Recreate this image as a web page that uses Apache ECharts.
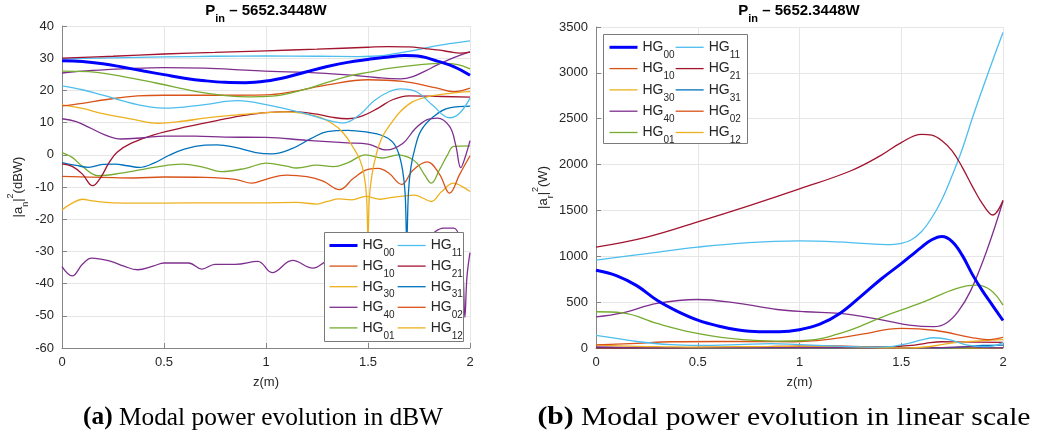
<!DOCTYPE html>
<html><head><meta charset="utf-8">
<script src="https://cdn.jsdelivr.net/npm/echarts@6/dist/echarts.min.js"></script>
<style>html,body{margin:0;padding:0;background:#fff}#c{width:1037px;height:441px}</style>
</head><body><div id="c"></div>
<script>
// ---------------- data ----------------
const legendCol1 = ['HG00','HG10','HG30','HG40','HG01'];
const legendCol2 = ['HG11','HG21','HG31','HG02','HG12'];
const titleText = 'P_in – 5652.3448W';
const captionA = ['(a)', ' Modal power evolution in dBW'];
const captionB = ['(b)', ' Modal power evolution in linear scale'];

// dBW panel: [z (m), |a_n|^2 (dBW)]
const dB_A = [[0,30.0],[0.25,30.6],[0.5,31.3],[0.75,31.8],[1.0,32.3],[1.25,32.8],[1.5,33.4],[1.6,33.6],[1.7,33.5],[1.78,33.0],[1.85,32.5],[1.9,32.0],[1.95,31.6],[2.0,31.9]];
const dB_B = [[0,29.8],[0.25,30.1],[0.5,30.4],[0.75,30.6],[1.0,30.7],[1.25,30.6],[1.45,30.5],[1.52,30.6],[1.58,30.9],[1.64,31.5],[1.7,32.1],[1.77,33.0],[1.84,33.9],[1.92,34.7],[2.0,35.4]];
const dB_C = [[0,29.2],[0.1,29.0],[0.2,28.3],[0.3,27.2],[0.4,26.0],[0.5,24.9],[0.6,23.8],[0.7,23.0],[0.8,22.5],[0.9,22.4],[1.0,22.9],[1.1,24.1],[1.2,25.8],[1.3,27.4],[1.4,28.7],[1.5,29.6],[1.6,30.4],[1.68,30.8],[1.76,30.5],[1.84,29.1],[1.92,27.4],[2.0,24.7]];
const dB_D = [[0,26.0],[0.13,25.8],[0.3,24.3],[0.46,22.3],[0.66,19.6],[0.8,18.4],[0.92,18.0],[1.03,18.2],[1.2,20.5],[1.3,22.5],[1.41,24.5],[1.5,25.6],[1.61,26.9],[1.77,28.1],[1.87,28.4],[1.94,28.0],[2.0,26.7]];
const dB_E = [[0,25.4],[0.15,26.2],[0.3,26.7],[0.5,27.1],[0.7,26.9],[0.9,26.3],[1.03,25.9],[1.2,25.6],[1.4,24.8],[1.54,24.0],[1.66,23.6],[1.72,24.3],[1.78,26.0],[1.84,27.9],[1.92,30.2],[2.0,32.0]];
const dB_F = [[0,21.4],[0.1,20.2],[0.2,18.5],[0.37,15.6],[0.5,14.5],[0.7,15.6],[0.86,16.8],[1.0,15.6],[1.18,13.0],[1.3,10.8],[1.38,9.9],[1.46,12.5],[1.53,16.8],[1.6,19.5],[1.66,20.5],[1.74,19.5],[1.82,15.2],[1.9,11.5],[1.95,13.0],[2.0,17.6]];
const dB_G = [[0,15.2],[0.1,16.0],[0.21,17.1],[0.37,18.3],[0.5,18.5],[0.75,18.5],[1.0,18.6],[1.13,19.6],[1.3,21.7],[1.5,23.3],[1.67,22.8],[1.84,20.7],[1.92,19.6],[2.0,20.7]];
const dB_H = [[0,15.5],[0.1,14.4],[0.2,12.8],[0.35,11.0],[0.47,9.8],[0.6,10.5],[0.7,11.4],[0.86,12.4],[1.0,13.1],[1.09,13.3],[1.25,11.9],[1.33,9.5],[1.38,6.7],[1.43,2.0],[1.46,-1.5],[1.48,-6],[1.493,-13],[1.5,-26],[1.507,-13],[1.52,-6],[1.54,0],[1.57,5.5],[1.61,9.5],[1.66,13.5],[1.72,16.5],[1.79,18.0],[1.9,19.1],[2.0,19.6]];
const dB_I = [[0,11.2],[0.07,10.3],[0.13,8.6],[0.21,6.2],[0.29,4.9],[0.4,5.3],[0.5,5.8],[0.65,5.8],[0.8,5.5],[1.0,5.4],[1.2,4.5],[1.4,3.7],[1.5,3.3],[1.59,1.5],[1.67,3.5],[1.73,8.0],[1.79,10.9],[1.84,11.4],[1.9,8.8],[1.93,3.0],[1.955,-4.0],[1.975,-1.0],[2.0,4.4]];
const dB_J = [[0,0.7],[0.05,-0.8],[0.1,-3.6],[0.18,-6.5],[0.29,-5.7],[0.46,-3.8],[0.59,-2.9],[0.7,-4.0],[0.78,-5.2],[0.9,-4.2],[1.0,-2.6],[1.1,-3.5],[1.15,-4.1],[1.25,-3.2],[1.33,-3.7],[1.4,-2.5],[1.49,0],[1.57,-1.0],[1.65,0],[1.7,-0.8],[1.74,-2.6],[1.78,-6.5],[1.81,-8.8],[1.85,-4.7],[1.89,0],[1.92,2.6],[2.0,2.8]];
const dB_K = [[0,-2.4],[0.07,-3.3],[0.13,-3.9],[0.2,-3.0],[0.26,-2.9],[0.32,-3.4],[0.38,-3.9],[0.45,-2.6],[0.52,-0.3],[0.6,1.8],[0.7,3.0],[0.76,3.1],[0.85,2.3],[0.95,0.7],[1.03,0.3],[1.13,2.0],[1.22,5.0],[1.3,7.2],[1.4,7.6],[1.5,7.0],[1.57,6.0],[1.62,4.0],[1.65,0.5],[1.67,-5],[1.682,-12],[1.69,-27],[1.698,-12],[1.71,-4],[1.73,2],[1.76,7.5],[1.82,11.8],[1.9,14.6],[2.0,15.1]];
const dB_L = [[0,-2.8],[0.05,-3.6],[0.1,-6.0],[0.15,-9.6],[0.19,-7.0],[0.23,-2.5],[0.27,0.8],[0.34,3.6],[0.45,6.2],[0.62,8.8],[0.78,10.9],[0.9,12.3],[1.0,13.1],[1.13,13.4],[1.25,12.6],[1.33,11.6],[1.4,11.2],[1.47,12.0],[1.55,14.5],[1.62,17.1],[1.7,18.3],[1.8,18.2],[2.0,17.9]];
const dB_M = [[0,-6.7],[0.2,-7.0],[0.35,-7.2],[0.5,-6.9],[0.7,-7.0],[0.85,-7.6],[0.93,-8.8],[1.0,-7.6],[1.1,-6.3],[1.2,-6.8],[1.28,-8.2],[1.36,-10.8],[1.43,-7.2],[1.5,-4.5],[1.55,-4.2],[1.6,-5.6],[1.665,-9.2],[1.72,-4.8],[1.79,-2.2],[1.85,-6.0],[1.9,-11.9],[1.95,-6.0],[2.0,-0.3]];
const dB_N = [[0,-17.1],[0.05,-15.0],[0.1,-13.8],[0.15,-14.3],[0.25,-14.9],[0.5,-15.0],[0.75,-14.9],[1.0,-14.9],[1.15,-14.8],[1.25,-15.3],[1.3,-14.5],[1.36,-13.7],[1.42,-14.0],[1.49,-12.9],[1.56,-13.8],[1.62,-13.2],[1.66,-12.9],[1.73,-12.5],[1.77,-13.5],[1.81,-14.5],[1.86,-11.5],[1.92,-8.8],[1.96,-9.8],[2.0,-11.4]];
const dB_O = [[0,-34.7],[0.05,-37.6],[0.1,-34.0],[0.145,-32.1],[0.24,-33.1],[0.3,-34.5],[0.37,-35.7],[0.45,-34.5],[0.5,-33.6],[0.62,-33.6],[0.685,-35.5],[0.75,-34.0],[0.85,-34.0],[0.96,-33.1],[1.03,-36.6],[1.13,-32.8],[1.23,-35.2],[1.3,-33],[1.4,-32],[1.5,-30],[1.6,-28.5],[1.7,-27],[1.8,-25],[1.87,-22.8],[1.92,-22.8],[1.95,-26],[1.965,-35],[1.975,-50.5],[1.985,-38],[2.0,-30.4]];

// linear panel: [z (m), |a_r|^2 (W)]
const W_A = [[0,1100],[0.25,1210],[0.5,1375],[0.75,1550],[1.0,1735],[1.25,1930],[1.4,2100],[1.5,2240],[1.6,2330],[1.65,2320],[1.7,2260],[1.75,2150],[1.8,1970],[1.85,1760],[1.9,1570],[1.95,1450],[2.0,1610]];
const W_B = [[0,957],[0.25,1030],[0.5,1100],[0.75,1150],[1.0,1167],[1.25,1150],[1.45,1128],[1.5,1140],[1.55,1180],[1.6,1270],[1.65,1420],[1.7,1620],[1.75,1880],[1.8,2170],[1.85,2510],[1.9,2830],[1.95,3140],[2.0,3440]];
const W_C = [[0,848],[0.1,790],[0.2,680],[0.3,520],[0.4,400],[0.5,304],[0.6,240],[0.7,196],[0.8,178],[0.9,178],[1.0,200],[1.1,260],[1.2,380],[1.3,560],[1.4,750],[1.5,920],[1.55,1010],[1.6,1100],[1.65,1180],[1.7,1215],[1.75,1160],[1.8,1010],[1.85,800],[1.9,620],[1.95,460],[2.0,300]];
const W_D = [[0,395],[0.13,384],[0.3,268],[0.46,177],[0.66,105],[0.89,75],[1.03,82],[1.215,170],[1.41,340],[1.61,503],[1.77,648],[1.87,685],[1.94,630],[2.0,467]];
const W_E = [[0,340],[0.13,384],[0.3,486],[0.5,529],[0.7,486],[0.89,420],[1.03,395],[1.2,377],[1.41,304],[1.54,250],[1.66,232],[1.72,270],[1.78,400],[1.84,620],[1.92,1060],[2.0,1600]];
const W_F = [[0,138],[0.1,105],[0.2,71],[0.37,36],[0.5,28],[0.7,36],[0.86,48],[1.0,36],[1.18,20],[1.3,12],[1.38,10],[1.46,18],[1.53,48],[1.6,89],[1.66,112],[1.74,89],[1.82,33],[1.9,14],[1.95,20],[2.0,58]];
const W_G = [[0,33],[0.2,51],[0.37,68],[0.6,71],[0.8,71],[0.97,68],[1.13,91],[1.3,148],[1.5,214],[1.67,191],[1.84,117],[1.92,91],[2.0,117]];
const W_H = [[0,35],[0.2,18],[0.35,13],[0.47,10],[0.7,14],[0.86,17],[1.0,20],[1.09,21],[1.25,15],[1.38,5],[1.46,0.7],[1.5,0],[1.54,1],[1.6,8],[1.66,22],[1.72,45],[1.79,63],[1.9,81],[2.0,91]];
const W_I = [[0,13],[0.13,7],[0.29,3.1],[0.5,3.8],[1.0,3.5],[1.4,2.3],[1.59,1.4],[1.7,4.5],[1.84,14],[1.9,7.6],[1.955,0.4],[2.0,2.8]];
const W_J = [[0,1.2],[0.19,0.2],[0.6,0.5],[1.0,0.55],[1.49,1.0],[1.81,0.13],[1.92,1.8],[2.0,1.9]];
const W_K = [[0,0.6],[0.38,0.4],[0.7,2],[1.03,1.1],[1.3,5.2],[1.4,5.8],[1.5,5],[1.62,2.5],[1.69,0],[1.73,1.3],[1.76,5],[1.82,15],[1.9,29],[2.0,32]];
const W_L = [[0,0.5],[0.15,0.1],[0.3,1.5],[0.45,4.2],[0.62,7.6],[0.78,12.3],[0.9,17],[1.0,20],[1.13,22],[1.25,18],[1.4,13],[1.47,16],[1.55,28],[1.62,51],[1.7,68],[1.8,66],[2.0,62]];
const W_M = [[0,0.2],[1.0,0.17],[1.5,0.35],[1.79,0.6],[1.9,0.06],[2.0,0.9]];
const W_N = [[0,0.02],[1.0,0.03],[2.0,0.07]];
const W_O = [[0,0],[1.0,0],[2.0,0]];

// ---------------- styling / series spec ----------------
const C = {blue:'#0000FF', orange:'#D95319', yellow:'#EDB120', purple:'#7E2F8E', green:'#77AC30', lblue:'#4DBEEE', dred:'#A2142F', mblue:'#0072BD'};
// [name, color, width, dB data, W data]
const specs = [
  ['_o', C.purple, 1.3, dB_O, W_O],
  ['HG12', C.yellow, 1.3, dB_N, W_N],
  ['HG02', C.orange, 1.3, dB_M, W_M],
  ['_j', C.green, 1.3, dB_J, W_J],
  ['HG31', C.mblue, 1.3, dB_K, W_K],
  ['_l', C.dred, 1.3, dB_L, W_L],
  ['_i', C.purple, 1.3, dB_I, W_I],
  ['HG30', C.yellow, 1.3, dB_H, W_H],
  ['HG10', C.orange, 1.3, dB_G, W_G],
  ['_f', C.lblue, 1.3, dB_F, W_F],
  ['HG40', C.purple, 1.3, dB_E, W_E],
  ['HG01', C.green, 1.3, dB_D, W_D],
  ['HG11', C.lblue, 1.3, dB_B, W_B],
  ['HG21', C.dred, 1.3, dB_A, W_A],
  ['HG00', C.blue, 3, dB_C, W_C]
];

const FONT = 'Liberation Sans';
const TXT = '#262626';
const AX = '#858585';

const series = [];
specs.forEach(([name, color, w, dbData, wData]) => {
  [dbData, wData].forEach((d, i) => {
    series.push({
      type: 'line', name, xAxisIndex: i, yAxisIndex: i, data: d,
      symbol: 'none', showSymbol: false, smooth: 0.4,
      lineStyle: {color, width: w}, itemStyle: {color},
      emphasis: {disabled: true}, silent: true, animation: false, z: 2
    });
  });
});

function xAxis(gi) {
  return {
    type: 'value', gridIndex: gi, min: 0, max: 2, interval: 0.5,
    name: 'z(m)', nameLocation: 'middle', nameGap: 28,
    nameTextStyle: {fontFamily: FONT, fontSize: 13, color: TXT},
    axisLine: {show: true, onZero: false, lineStyle: {color: AX, width: 1}},
    axisTick: {show: true, inside: true, length: 5, lineStyle: {color: AX}},
    axisLabel: {fontFamily: FONT, fontSize: 13, color: TXT, margin: 8},
    splitLine: {show: true, lineStyle: {color: '#e6e6e6', width: 1}}
  };
}
const nameRich = {
  t: {fontFamily: FONT, fontSize: 13, color: TXT, lineHeight: 24, verticalAlign: 'middle'},
  s: {fontFamily: FONT, fontSize: 9, color: TXT, lineHeight: 10, verticalAlign: 'bottom'},
  p: {fontFamily: FONT, fontSize: 9, color: TXT, lineHeight: 10, verticalAlign: 'top'}
};
function yAxis(gi, min, max, interval, name, gap) {
  return {
    type: 'value', gridIndex: gi, min, max, interval,
    name, nameLocation: 'middle', nameGap: gap,
    nameTextStyle: {rich: nameRich},
    axisLine: {show: true, lineStyle: {color: AX, width: 1}},
    axisTick: {show: true, inside: true, length: 5, lineStyle: {color: AX}},
    axisLabel: {fontFamily: FONT, fontSize: 13, color: TXT, margin: 8, formatter: v => String(v)},
    splitLine: {show: true, lineStyle: {color: '#e6e6e6', width: 1}}
  };
}
const titleRich = {
  p: {fontFamily: FONT, fontSize: 15, fontWeight: 'bold', color: '#000', lineHeight: 20.5, verticalAlign: 'top'},
  s: {fontFamily: FONT, fontSize: 11, fontWeight: 'bold', color: '#000', lineHeight: 12, verticalAlign: 'bottom'}
};
const tParts = titleText.split('_in');
const titleStr = '{p|' + tParts[0] + '}{s|in}{p|' + tParts[1] + '}';

const legRich = {
  a: {fontFamily: FONT, fontSize: 14, color: TXT, lineHeight: 26, verticalAlign: 'middle'},
  s: {fontFamily: FONT, fontSize: 10, color: TXT, lineHeight: 10, verticalAlign: 'bottom'}
};
function legend(names, left, top, gap) {
  return {
    data: names, orient: 'vertical', left, top,
    padding: 0, itemGap: gap, itemWidth: 28, itemHeight: 14, z: 5,
    selectedMode: false,
    itemStyle: {opacity: 0}, lineStyle: {width: 'inherit'},
    formatter: n => '{a|HG}{s|' + n.slice(2) + '}',
    textStyle: {rich: legRich}
  };
}
function legendBox(x, y, w, h) {
  return {type: 'rect', z: 3, shape: {x, y, width: w, height: h},
    style: {fill: '#fff', stroke: '#7a7a7a', lineWidth: 1}, silent: true};
}

function textW(t, f) { const c = document.createElement('canvas').getContext('2d'); c.font = f; return c.measureText(t).width; }
function caption(parts, cx, cy, targetW) {
  const fb = 'bold 25px "Liberation Serif"', fr = '25px "Liberation Serif"';
  const wb = textW(parts[0], fb), wr = textW(parts[1], fr);
  const s = targetW / (wb + wr);
  return {type: 'group', x: cx - targetW / 2, y: cy, scaleX: s, children: [
    {type: 'text', x: 0, y: 0, style: {text: parts[0], font: fb, fill: '#000', verticalAlign: 'middle'}},
    {type: 'text', x: wb, y: 0, style: {text: parts[1], font: fr, fill: '#000', verticalAlign: 'middle'}}
  ]};
}

const option = {
  animation: false,
  backgroundColor: '#fff',
  title: [
    {text: titleStr, left: 266, top: 3.5, padding: 0, textAlign: 'center', textStyle: {rich: titleRich}},
    {text: titleStr, left: 799, top: 3.5, padding: 0, textAlign: 'center', textStyle: {rich: titleRich}}
  ],
  grid: [
    {left: 62, right: 567, top: 26, bottom: 93},
    {left: 596, right: 34, top: 27, bottom: 93}
  ],
  xAxis: [xAxis(0), xAxis(1)],
  yAxis: [
    yAxis(0, -60, 40, 10, '{t||a}{s|n}{t||}{p|2}{t|(dBW)}', 32),
    yAxis(1, 0, 3500, 500, '{t||a}{s|r}{t||}{p|2}{t|(W)}', 41)
  ],
  legend: [
    legend(legendCol1, 328, 238.5, 0.6), legend(legendCol2, 397, 238.5, 0.6),
    legend(legendCol1, 608, 40.3, 1.3), legend(legendCol2, 675, 40.3, 1.3)
  ],
  series,
  graphic: [
    legendBox(324.5, 232.5, 139, 109), legendBox(603.5, 34.5, 144, 109),
    caption(captionA, 263, 418, 360), caption(captionB, 784, 418, 493)
  ]
};
const chart = echarts.init(document.getElementById('c'), null, {renderer: 'canvas'});
chart.setOption(option);
</script></body></html>
